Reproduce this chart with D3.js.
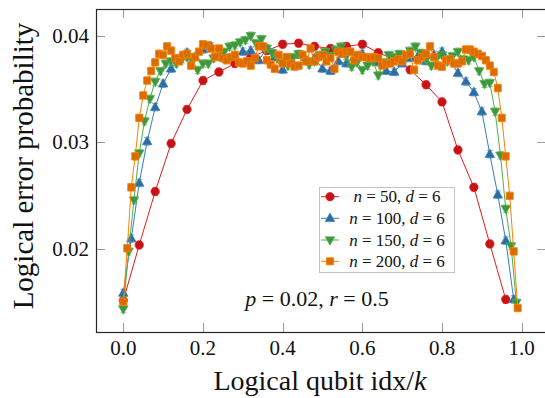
<!DOCTYPE html>
<html><head><meta charset="utf-8">
<script src="https://cdn.jsdelivr.net/npm/d3@7"></script>
<style>html,body{margin:0;padding:0;background:#fff;}svg{display:block;}</style>
</head><body>
<script>
// ---------- data ----------
const seriesNames = ["n = 50, d = 6", "n = 100, d = 6", "n = 150, d = 6", "n = 200, d = 6"];
const seriesK = [25, 50, 75, 100];
const errN = [0.00035, 0.00035, 0.00035, 0.00035];
const valsN50 = [0.0152,0.0204,0.0254,0.0299,0.0331,0.0358,0.0366,0.0374,0.0380,0.0386,
  0.0392,0.0393,0.0390,0.0388,0.0390,0.0392,0.0384,0.0378,0.0368,0.0354,
  0.0338,0.0293,0.0258,0.0205,0.0153];
const valsN100 = [0.0159,0.0210,0.0262,0.0301,0.0333,0.0355,0.0369,0.0378,0.0384,0.0380,
  0.0387,0.0390,0.0383,0.0378,0.0381,0.0385,0.0386,0.0377,0.0388,0.0380,
  0.0368,0.0378,0.0382,0.0376,0.0379,0.0369,0.0367,0.0376,0.0374,0.0380,
  0.0383,0.0378,0.0375,0.0367,0.0366,0.0374,0.0379,0.0381,0.0376,0.0382,
  0.0385,0.0377,0.0365,0.0357,0.0347,0.0329,0.0289,0.0251,0.0208,0.0153];
const valsN150 = [0.0144,0.0198,0.0246,0.0290,0.0320,0.0341,0.0357,0.0367,0.0374,0.0376,
  0.0374,0.0378,0.0380,0.0376,0.0368,0.0374,0.0374,0.0379,0.0381,0.0385,
  0.0390,0.0391,0.0394,0.0396,0.0400,0.0393,0.0397,0.0388,0.0384,0.0379,
  0.0376,0.0372,0.0380,0.0383,0.0378,0.0373,0.0376,0.0382,0.0385,0.0381,
  0.0387,0.0390,0.0381,0.0371,0.0375,0.0368,0.0372,0.0376,0.0363,0.0375,
  0.0382,0.0380,0.0383,0.0378,0.0386,0.0390,0.0384,0.0378,0.0372,0.0379,
  0.0382,0.0376,0.0381,0.0385,0.0378,0.0377,0.0380,0.0367,0.0355,0.0356,
  0.0329,0.0288,0.0238,0.0203,0.0150];
const valsN200 = [0.0151,0.0201,0.0258,0.0287,0.0323,0.0344,0.0358,0.0367,0.0375,0.0383,
  0.0382,0.0390,0.0386,0.0379,0.0376,0.0382,0.0383,0.0372,0.0380,0.0385,
  0.0392,0.0391,0.0388,0.0380,0.0388,0.0379,0.0377,0.0380,0.0382,0.0375,
  0.0374,0.0376,0.0372,0.0379,0.0390,0.0390,0.0377,0.0373,0.0369,0.0382,
  0.0374,0.0380,0.0374,0.0371,0.0372,0.0382,0.0376,0.0388,0.0376,0.0380,
  0.0382,0.0376,0.0379,0.0369,0.0385,0.0383,0.0385,0.0385,0.0377,0.0382,
  0.0380,0.0380,0.0379,0.0380,0.0379,0.0372,0.0374,0.0374,0.0376,0.0378,
  0.0376,0.0382,0.0383,0.0368,0.0377,0.0380,0.0383,0.0390,0.0380,0.0372,
  0.0371,0.0377,0.0378,0.0374,0.0374,0.0376,0.0387,0.0387,0.0385,0.0383,
  0.0381,0.0377,0.0372,0.0366,0.0351,0.0323,0.0287,0.0250,0.0198,0.0145];
const xTicks = [0, 0.2, 0.4, 0.6, 0.8, 1.0];
const yTicks = [0.02, 0.03, 0.04];
const allVals = [valsN50, valsN100, valsN150, valsN200];

// ---------- style ----------
const lineColors = ["#e41a1c", "#377eb8", "#4daf4a", "#ff7f00"];
const fillColors = ["#c41418", "#2f6ca0", "#41953f", "#d96c00"];
const markers = ["circle", "up", "down", "square"];

const W = 545, H = 398;
const M = {left: 96, right: 546, top: 9, bottom: 332};
const serif = "'Liberation Serif', 'Times New Roman', serif";

const svg = d3.select("body").append("svg").attr("width", W).attr("height", H);
const x = d3.scaleLinear().domain([-0.0685, 1.061]).range([M.left, M.right]);
const y = d3.scaleLinear().domain([0.01225, 0.0425]).range([M.bottom, M.top]);

svg.append("defs").append("clipPath").attr("id", "clip")
  .append("rect").attr("x", M.left).attr("y", M.top)
  .attr("width", M.right - M.left).attr("height", M.bottom - M.top);

// ticks (inside, mirrored)
const tickG = svg.append("g").attr("stroke", "#9a9a9a").attr("stroke-width", 1);
const tl = 9;
xTicks.forEach(t => {
  const px = Math.round(x(t)) + 0.5;
  tickG.append("line").attr("x1", px).attr("x2", px).attr("y1", M.bottom).attr("y2", M.bottom - tl);
  tickG.append("line").attr("x1", px).attr("x2", px).attr("y1", M.top).attr("y2", M.top + tl);
});
yTicks.forEach(t => {
  const py = Math.round(y(t)) + 0.5;
  tickG.append("line").attr("x1", M.left).attr("x2", M.left + tl).attr("y1", py).attr("y2", py);
  tickG.append("line").attr("x1", M.right).attr("x2", M.right - tl).attr("y1", py).attr("y2", py);
});

// symbols
function markerPath(type) {
  if (type === "circle") return d3.symbol(d3.symbolCircle, 56)();
  if (type === "square") return d3.symbol(d3.symbolSquare, 52)();
  const s = 5.2;
  if (type === "up") return `M0,${-s}L${s*0.92},${s*0.62}L${-s*0.92},${s*0.62}Z`;
  return `M0,${s}L${s*0.92},${-s*0.62}L${-s*0.92},${-s*0.62}Z`;
}

const plotG = svg.append("g").attr("clip-path", "url(#clip)");
allVals.forEach((vals, si) => {
  const k = seriesK[si];
  const data = vals.map((v, i) => ({x: i / k, y: v}));
  const g = plotG.append("g");
  const e = errN[si];
  // error bars
  const eb = g.append("g").attr("stroke", lineColors[si]).attr("stroke-opacity", 0.6).attr("stroke-width", 1);
  data.forEach(d => {
    const px = x(d.x);
    eb.append("line").attr("x1", px).attr("x2", px).attr("y1", y(d.y - e)).attr("y2", y(d.y + e));
    eb.append("line").attr("x1", px - 3).attr("x2", px + 3).attr("y1", y(d.y - e)).attr("y2", y(d.y - e));
    eb.append("line").attr("x1", px - 3).attr("x2", px + 3).attr("y1", y(d.y + e)).attr("y2", y(d.y + e));
  });
  g.append("path").datum(data)
    .attr("d", d3.line().x(d => x(d.x)).y(d => y(d.y)))
    .attr("fill", "none").attr("stroke", lineColors[si]).attr("stroke-width", 1);
  const mp = markerPath(markers[si]);
  g.selectAll("path.m").data(data).join("path").attr("class", "m")
    .attr("d", mp)
    .attr("transform", d => `translate(${x(d.x)},${y(d.y)})`)
    .attr("fill", fillColors[si]).attr("stroke", lineColors[si])
    .attr("stroke-opacity", 0.7).attr("stroke-width", 1);
});

// frame
svg.append("rect").attr("x", M.left + 0.5).attr("y", M.top + 0.5)
  .attr("width", M.right - M.left).attr("height", M.bottom - M.top)
  .attr("fill", "none").attr("stroke", "#262626").attr("stroke-width", 1.2);

// tick labels
svg.append("g").selectAll("text").data(xTicks).join("text")
  .attr("x", d => x(d)).attr("y", 355).attr("text-anchor", "middle")
  .attr("font-family", serif).attr("font-size", 21).attr("fill", "#111")
  .text(d => d3.format(".1f")(d));
svg.append("g").selectAll("text").data(yTicks).join("text")
  .attr("x", 89).attr("y", d => y(d) + 7).attr("text-anchor", "end")
  .attr("font-family", serif).attr("font-size", 21).attr("fill", "#111")
  .text(d => d3.format(".2f")(d));

// axis labels
const xl = svg.append("text").attr("x", 320).attr("y", 390).attr("text-anchor", "middle")
  .attr("font-family", serif).attr("font-size", 28).attr("fill", "#111");
xl.append("tspan").text("Logical qubit idx/");
xl.append("tspan").attr("font-style", "italic").text("k");

svg.append("text").attr("transform", "translate(33,166) rotate(-90)")
  .attr("text-anchor", "middle").attr("font-family", serif).attr("font-size", 29).attr("fill", "#111")
  .text("Logical error probability");

// annotation
const an = svg.append("text").attr("x", 317).attr("y", 306).attr("text-anchor", "middle")
  .attr("font-family", serif).attr("font-size", 22).attr("fill", "#111");
an.append("tspan").attr("font-style", "italic").text("p");
an.append("tspan").text(" = 0.02, ");
an.append("tspan").attr("font-style", "italic").text("r");
an.append("tspan").text(" = 0.5");

// legend
const lg = svg.append("g");
lg.append("rect").attr("x", 319.5).attr("y", 187.5).attr("width", 135).attr("height", 85)
  .attr("fill", "#fff").attr("stroke", "#c4c4c4").attr("stroke-width", 1);
const rowY = [196.7, 218.3, 240, 261.3];
seriesNames.forEach((nm, si) => {
  const ry = rowY[si];
  lg.append("line").attr("x1", 321).attr("x2", 339).attr("y1", ry).attr("y2", ry)
    .attr("stroke", lineColors[si]).attr("stroke-width", 1);
  lg.append("path").attr("d", markerPath(markers[si])).attr("transform", `translate(330,${ry})`)
    .attr("fill", fillColors[si]).attr("stroke", lineColors[si]).attr("stroke-opacity", 0.7);
  const parts = nm.split(", ");
  const nv = parts[0].split(" = ")[1], dv = parts[1].split(" = ")[1];
  const t = lg.append("text").attr("x", 397).attr("y", ry + 5.5).attr("text-anchor", "middle")
    .attr("font-family", serif).attr("font-size", 17).attr("fill", "#111");
  t.append("tspan").attr("font-style", "italic").text("n");
  t.append("tspan").text(" = " + nv + ",  ");
  t.append("tspan").attr("font-style", "italic").text("d");
  t.append("tspan").text(" = " + dv);
});
</script>
</body></html>
